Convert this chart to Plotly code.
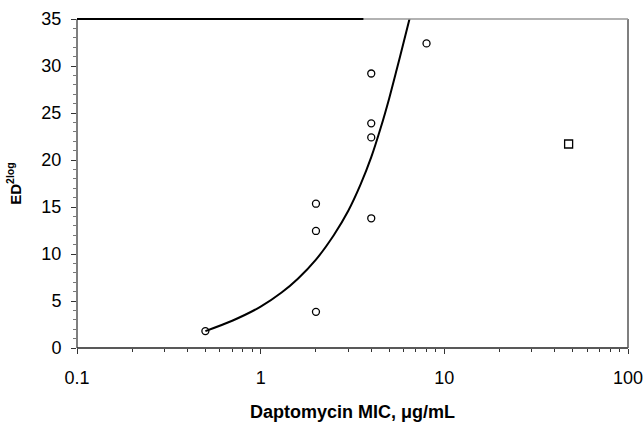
import plotly.graph_objects as go

# Data
mic_circles = [0.5, 2, 2, 2, 4, 4, 4, 4, 8]
ed_circles = [1.8, 3.85, 12.45, 15.35, 13.8, 22.4, 23.9, 29.2, 32.4]

mic_square = [47.5]
ed_square = [21.7]

curve_x = [0.5, 0.7, 1.0, 1.3, 1.6, 2.0, 2.5, 3.0, 3.5, 4.0, 4.5, 5.0, 5.5, 6.0, 6.5]
curve_y = [1.8, 2.9, 4.4, 5.9, 7.4, 9.4, 12.0, 14.6, 17.4, 20.3, 23.4, 26.5, 29.6, 32.5, 35.2]

x_ticks = [0.1, 1, 10, 100]
x_tick_labels = ["0.1", "1", "10", "100"]
x_minor_ticks = [m * d for d in (0.1, 1, 10) for m in range(2, 10)]

fig = go.Figure()
fig.add_trace(go.Scatter(x=curve_x, y=curve_y, mode="lines",
                         line=dict(color="black", width=2, shape="spline", smoothing=0.8),
                         showlegend=False, hoverinfo="skip"))
fig.add_trace(go.Scatter(x=mic_circles, y=ed_circles, mode="markers",
                         marker=dict(symbol="circle-open", size=7, color="black",
                                     line=dict(width=1.3, color="black")),
                         showlegend=False))
fig.add_trace(go.Scatter(x=mic_square, y=ed_square, mode="markers",
                         marker=dict(symbol="square-open", size=8, color="black",
                                     line=dict(width=1.3, color="black")),
                         showlegend=False))

font = dict(family="Liberation Sans, Arial, sans-serif", color="black")

fig.update_layout(
    width=644, height=422,
    margin=dict(l=77, r=16, t=19, b=74, autoexpand=False),
    paper_bgcolor="white", plot_bgcolor="white",
    font=dict(size=18, **font),
    xaxis=dict(
        type="log", range=[-1, 2], automargin=False,
        tickmode="array", tickvals=x_ticks, ticktext=x_tick_labels,
        ticks="outside", ticklen=5, tickcolor="#333",
        showline=False, showgrid=False, zeroline=False,
        tickfont=dict(size=18, **font), ticklabelstandoff=8,
        minor=dict(tickmode="array", tickvals=x_minor_ticks, ticks="outside",
                   ticklen=3, tickcolor="#333", showgrid=False),
        title=dict(text="<b>Daptomycin MIC, μg/mL</b>", font=dict(size=18, **font), standoff=18),
    ),
    yaxis=dict(
        range=[0, 35], dtick=5, automargin=False,
        ticks="outside", ticklen=5, tickcolor="#333",
        showline=False, showgrid=False, zeroline=False,
        tickfont=dict(size=18, **font), ticklabelstandoff=6,
        minor=dict(dtick=1, ticks="outside", ticklen=3, tickcolor="#777", showgrid=False),
        title=dict(text="<b>ED<sup>2log</sup></b>", font=dict(size=15, **font), standoff=16),
    ),
)
frame = [
    (0, 0, 0, 1, "#555", 1.5),      # left
    (0, 1, 0, 0, "#222", 1.5),      # bottom
    (1, 1, 0, 1, "#555", 1.5),      # right
    (0.52, 1, 1, 1, "#999", 1.5),   # top (light part)
    (0, 0.52, 1, 1, "black", 2),    # top (dark part)
]
for x0, x1, y0, y1, c, w in frame:
    fig.add_shape(type="line", xref="paper", yref="paper", x0=x0, x1=x1, y0=y0, y1=y1,
                  line=dict(color=c, width=w), layer="above")

fig.write_html("out.html")
